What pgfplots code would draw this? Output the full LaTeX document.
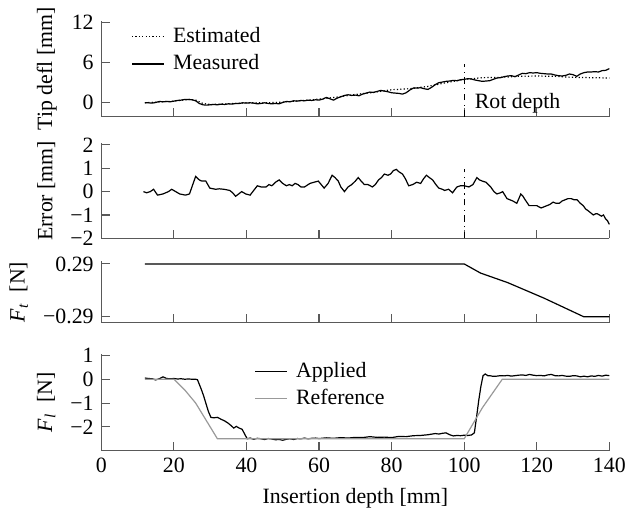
\documentclass[border=0pt]{standalone}
\usepackage{fontspec}
\setmainfont{Liberation Serif}
\usepackage{pgfplots}
\pgfplotsset{compat=1.18}
\definecolor{axgray}{gray}{0.35}
\definecolor{refgray}{gray}{0.6}
\pgfplotsset{
  myax/.style={
    scale only axis, width=232.7pt, xmin=0, xmax=140,
    anchor=north west,
    axis x line*=bottom, axis y line*=left,
    axis line style={-, axgray, line width=0.5pt},
    tick align=inside, major tick length=4pt,
    tick style={axgray, line width=0.5pt},
    xtick={0,20,...,140}, xticklabels={},
    /pgf/number format/assume math mode=true,
    ticklabel style={font=\normalsize},
    label style={font=\normalsize},
    every axis plot/.append style={line width=0.55pt},
    clip=false,
    legend cell align=left,
    legend style={draw=none, fill=none, font=\normalsize, row sep=0pt},
    legend image code/.code={\draw[#1] (0pt,0pt) -- (14.5pt,0pt); \path (16.5pt,0pt);},
  }
}
\begin{document}
\begin{tikzpicture}
\path (-46.4pt,7.6pt) rectangle (241.4pt,-225.6pt);
% Panel 1
\begin{axis}[myax, at={(0pt,0pt)}, height=43.9pt, ymin=-2.07, ymax=12.24,
  ytick={0,6,12}, yticklabels={0,6,12}, ylabel={Tip defl [mm]},
  legend style={at={(axis cs:6.4,12.6)}, anchor=north west}]
\addplot[black, densely dotted] coordinates {
(12,0) (20,0.25) (24,0.5) (26,0.4) (28,-0.1) (30,-0.25) (35,-0.15) (40,0) (45,0) (50,0.1)
(55,0.3) (60,0.55) (65,0.85) (70,1.25) (75,1.55) (80,1.95) (85,2.1) (90,2.45) (95,3.0)
(100,3.5) (105,3.75) (110,3.8) (115,3.95) (120,4.0) (125,3.95) (130,3.8) (135,3.75) (140,3.7)};
\addlegendentry{Estimated}
\addplot[black] table {
12 0
13 0
14 -0.05
15 0.05
16 0.2
17 0.15
18 0.2
19 0.15
20 0.25
21 0.35
22 0.4
23 0.5
24 0.5
25 0.45
26 0.3
27 -0.1
28 -0.3
29 -0.35
30 -0.3
31 -0.25
32 -0.3
33 -0.2
34 -0.25
35 -0.15
36 -0.2
37 -0.1
38 -0.1
39 0
40 -0.05
41 0
42 -0.05
43 -0.15
44 -0.1
45 0
46 -0.1
47 -0.15
48 -0.1
49 -0.15
50 0.05
51 0.2
52 0.15
53 0.3
54 0.25
55 0.35
56 0.3
57 0.4
58 0.35
59 0.45
60 0.4
61 0.55
62 0.8
63 0.6
64 0.4
65 0.7
66 0.9
67 1.1
68 1.2
69 1.1
70 1.15
71 1.05
72 1.3
73 1.45
74 1.6
75 1.55
76 1.7
77 1.85
78 1.75
79 1.65
80 1.5
81 1.45
82 1.4
83 1.3
84 1.5
85 1.9
86 2.2
87 2.2
88 2.25
89 2.1
90 2.0
91 2.3
92 2.7
93 3.0
94 3.1
95 3.2
96 3.25
97 3.35
98 3.3
99 3.45
100 3.5
101 3.6
102 3.55
103 3.4
104 3.3
105 3.2
106 3.25
107 3.3
108 3.5
109 3.7
110 3.75
111 3.9
112 4.0
113 4.05
114 3.9
115 4.15
116 4.4
117 4.35
118 4.5
119 4.45
120 4.5
121 4.4
122 4.35
123 4.3
124 4.3
125 4.15
126 4.05
127 4.0
128 4.1
129 4.3
130 4.2
131 3.95
132 4.3
133 4.5
134 4.6
135 4.6
136 4.65
137 4.6
138 4.8
139 4.85
140 5.1
};
\addlegendentry{Measured}
\addplot[black, dash dot, line width=0.4pt, forget plot] coordinates {(100,-2.07) (100,5.8)};
\node[anchor=west, font=\normalsize] at (axis cs:100.8,0) {Rot depth};
\end{axis}
% Panel 2
\begin{axis}[myax, at={(0pt,-56.05pt)}, height=43.6pt, ymin=-2, ymax=2.07,
  ytick={-2,-1,0,1,2}, yticklabels={−2,−1,0,1,2}, ylabel={Error [mm]}]
\addplot[black] table {
11.6 0
12.5 -0.05
13.5 0
14.4 0.1
15.5 -0.15
17 -0.1
18.5 0
19.4 0.1
20.5 0
21.6 -0.1
23.2 -0.15
24.3 -0.1
25.2 0.3
26 0.65
27 0.5
27.7 0.45
28.8 0.45
29.9 0.15
31.5 0.1
32.5 0.12
33.8 0.1
35.4 0.05
36.2 -0.05
37 -0.2
38.7 0
39.8 -0.1
41 -0.15
42 0.05
43 0.25
44 0.2
45.4 0.2
46.2 0.3
47 0.25
48 0.4
49 0.5
50 0.35
51 0.25
51.8 0.3
52.6 0.25
53.4 0.35
54.2 0.3
55 0.2
56 0.2
57.5 0.35
58.6 0.4
59.8 0.45
60.6 0.3
61.4 0.15
62.5 0.35
63.6 0.7
64.4 0.6
65.3 0.45
66 0.2
67 0.0
68 0.2
69 0.3
70 0.45
70.8 0.6
71.6 0.45
72.5 0.3
73.5 0.3
74.7 0.2
75.5 0.3
76.4 0.5
77.2 0.6
78 0.75
79 0.7
79.7 0.75
80.5 0.9
81.3 0.95
82 0.85
83 0.75
83.8 0.55
84.7 0.25
85.8 0.3
86.9 0.4
88 0.35
88.8 0.55
89.6 0.7
90.4 0.6
91.3 0.5
92.2 0.3
93 0.15
94 0.1
94.6 0.05
95.7 0.1
96.8 -0.05
97.5 0.1
98 0.2
99 0.25
100 0.25
101.3 0.2
102.4 0.3
103.5 0.6
104.2 0.5
105 0.45
106 0.4
107.3 0.2
108.2 0.0
109 -0.1
110 -0.05
110.6 0.0
111.8 -0.3
112.6 -0.35
113.4 -0.4
114.5 -0.5
115.2 -0.25
115.6 -0.1
116.2 -0.2
116.8 -0.35
117.9 -0.6
119 -0.6
120 -0.6
121.2 -0.7
122 -0.65
122.8 -0.6
123.6 -0.55
124.5 -0.45
125.3 -0.5
126.2 -0.5
127 -0.4
127.8 -0.35
128.6 -0.3
129.5 -0.3
130.3 -0.35
131.1 -0.35
132 -0.5
132.8 -0.6
133.5 -0.75
134 -0.8
134.8 -0.9
135.6 -1.0
136.2 -0.95
136.7 -0.95
137.3 -1.0
137.8 -1.05
138.4 -1.0
138.9 -1.15
139.5 -1.25
140 -1.4
};
\addplot[black, dash dot, line width=0.4pt] coordinates {(100,-2) (100,0.97)};
\end{axis}
% Panel 3
\begin{axis}[myax, at={(0pt,-110.1pt)}, height=28.2pt, ymin=-0.355, ymax=0.32,
  ytick={-0.29,0.29}, yticklabels={−0.29,0.29},
  ylabel={\textit{F}\textsubscript{\textit{t}}\ \ [N]}]
\addplot[black] coordinates {(12,0.29) (100,0.29) (104.5,0.19) (112,0.085) (122,-0.085) (133,-0.29) (140,-0.29)};
\end{axis}
% Panel 4
\begin{axis}[myax, at={(0pt,-152.7pt)}, height=44.2pt, ymin=-3, ymax=1.05,
  ytick={-2,-1,0,1}, yticklabels={−2,−1,0,1},
  xticklabels={0,20,40,60,80,100,120,140},
  ylabel={\textit{F}\textsubscript{\textit{l}}\ \ [N]},
  xlabel={Insertion depth [mm]},
  legend style={at={(axis cs:40.3,1.1)}, anchor=north west}]
\addplot[black] table {
12 0.05
13 0.03
14 0.02
15 -0.03
16 0.02
17 0.1
18 0.03
19 0.02
20 0.03
21 0.01
22 0.02
23 0.0
24 0.01
25 0.0
26 0.0
26.5 -0.02
27.5 -0.4
28.2 -0.7
29 -1.1
29.5 -1.35
30.2 -1.6
31 -1.62
32 -1.6
33 -1.68
34 -1.75
35 -1.85
35.8 -1.95
36.5 -2.05
37.2 -1.98
38 -2.05
38.8 -2.1
39.5 -2.3
40.2 -2.5
41 -2.47
42 -2.52
43 -2.48
44 -2.5
45 -2.53
46 -2.49
47 -2.51
48 -2.54
49 -2.53
50 -2.56
51 -2.52
52 -2.5
53 -2.53
54 -2.49
55 -2.5
56 -2.47
57 -2.5
58 -2.48
59 -2.47
60 -2.49
62 -2.46
64 -2.48
66 -2.45
68 -2.47
70 -2.44
72 -2.45
74 -2.41
76 -2.44
78 -2.43
80 -2.45
82 -2.4
84 -2.41
86 -2.37
88 -2.36
90 -2.33
92 -2.28
93 -2.3
94 -2.27
95 -2.25
96 -2.33
97 -2.38
98 -2.36
99 -2.37
100 -2.35
101 -2.36
102 -2.34
102.8 -2.25
103.4 -1.6
104 -0.9
104.6 -0.3
105.2 0.15
105.8 0.22
106.5 0.15
107 0.15
108 0.12
109 0.13
110 0.15
111 0.14
112 0.16
113 0.13
114 0.15
115 0.17
116 0.18
117 0.16
118 0.2
119 0.17
120 0.15
121 0.16
122 0.14
123 0.18
124 0.2
125 0.15
126 0.14
127 0.16
128 0.13
129 0.12
130 0.15
131 0.14
132 0.1
133 0.13
134 0.1
135 0.14
136 0.12
137 0.16
138 0.13
139 0.17
140 0.15
};
\addlegendentry{Applied}
\addplot[refgray] coordinates {(12,0) (20,0) (23,-0.45) (26,-1.0) (29,-1.75) (32,-2.5) (100,-2.5) (105,-1.2) (110.5,0) (140,0)};
\addlegendentry{Reference}
\end{axis}
\end{tikzpicture}
\end{document}
